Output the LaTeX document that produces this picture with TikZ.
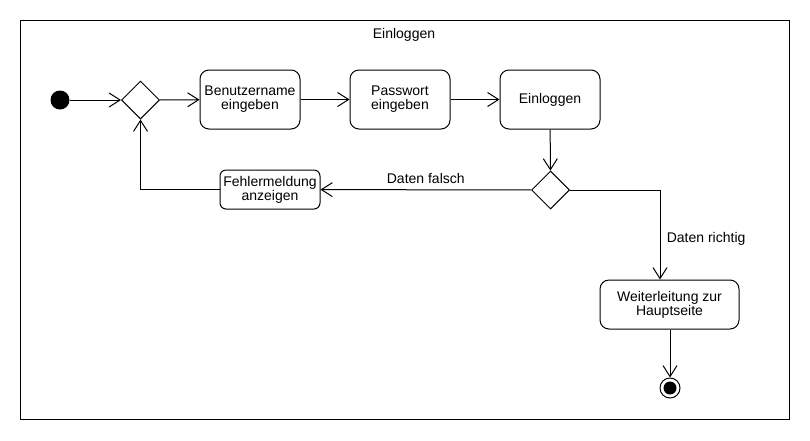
\documentclass[tikz,border=0pt]{standalone}
\usepackage{fontspec}
\setmainfont{Liberation Sans}
\usetikzlibrary{shapes.geometric,arrows.meta}
\begin{document}
\begin{tikzpicture}
    [x=1pt, y=-1pt, line width=1pt,
    font=\fontsize{14}{14}\selectfont,
    activity/.style={rectangle, rounded corners=9pt, draw=black, align=center, inner sep=0pt},
    decision/.style={diamond, draw=black, inner sep=0pt, minimum width=38pt, minimum height=38pt},
    startnode/.style={circle, fill=black, inner sep=0pt, minimum size=19pt},
    flow/.style={-{Straight Barb[length=11pt, width=14pt]}}
    ]
    \useasboundingbox (0,0) rectangle (810,440);
    \draw (20,20) rectangle (789,419);
    \node (titel) at (404,35) {Einloggen};
    \node [startnode] (start) at (60,100) {};
    \node [decision] (d1) at (140.5,100) {};
    \node [activity, minimum width=100pt, minimum height=59pt] (benutzer) at (250,99.5) {Benutzername\\eingeben};
    \node [activity, minimum width=100pt, minimum height=59pt] (passwort) at (400,99.5) {Passwort\\eingeben};
    \node [activity, minimum width=100pt, minimum height=59pt] (login) at (550,99.5) {Einloggen};
    \node [decision] (d2) at (550.5,190) {};
    \node [activity, rounded corners=6pt, minimum width=100pt, minimum height=39pt] (fehler) at (270,189.5) {Fehlermeldung\\anzeigen};
    \node [activity, minimum width=139pt, minimum height=49pt] (weiter) at (669.5,304.5) {Weiterleitung zur\\Hauptseite};
    \node [circle, draw=black, inner sep=0pt, minimum size=20pt] (ende) at (670,388) {};
    \node [startnode, minimum size=13pt] (endpunkt) at (ende) {};
    \coordinate (knick) at (660,190);

    \draw [flow] (start) -- (d1);
    \draw [flow] (d1) -- (benutzer);
    \draw [flow] (benutzer) -- (passwort);
    \draw [flow] (passwort) -- (login);
    \draw [flow] (login) -- (d2);
    \draw [flow] (d2) -- node [above=2pt] {Daten falsch} (fehler);
    \draw [flow] (fehler.west) -| (d1.south);
    \draw [flow] (d2.east) -- (knick) -- node [right=3pt, pos=0.55] {Daten richtig} (knick |- weiter.north);
    \draw [flow] (weiter.south -| ende) -- (ende);
\end{tikzpicture}
\end{document}
